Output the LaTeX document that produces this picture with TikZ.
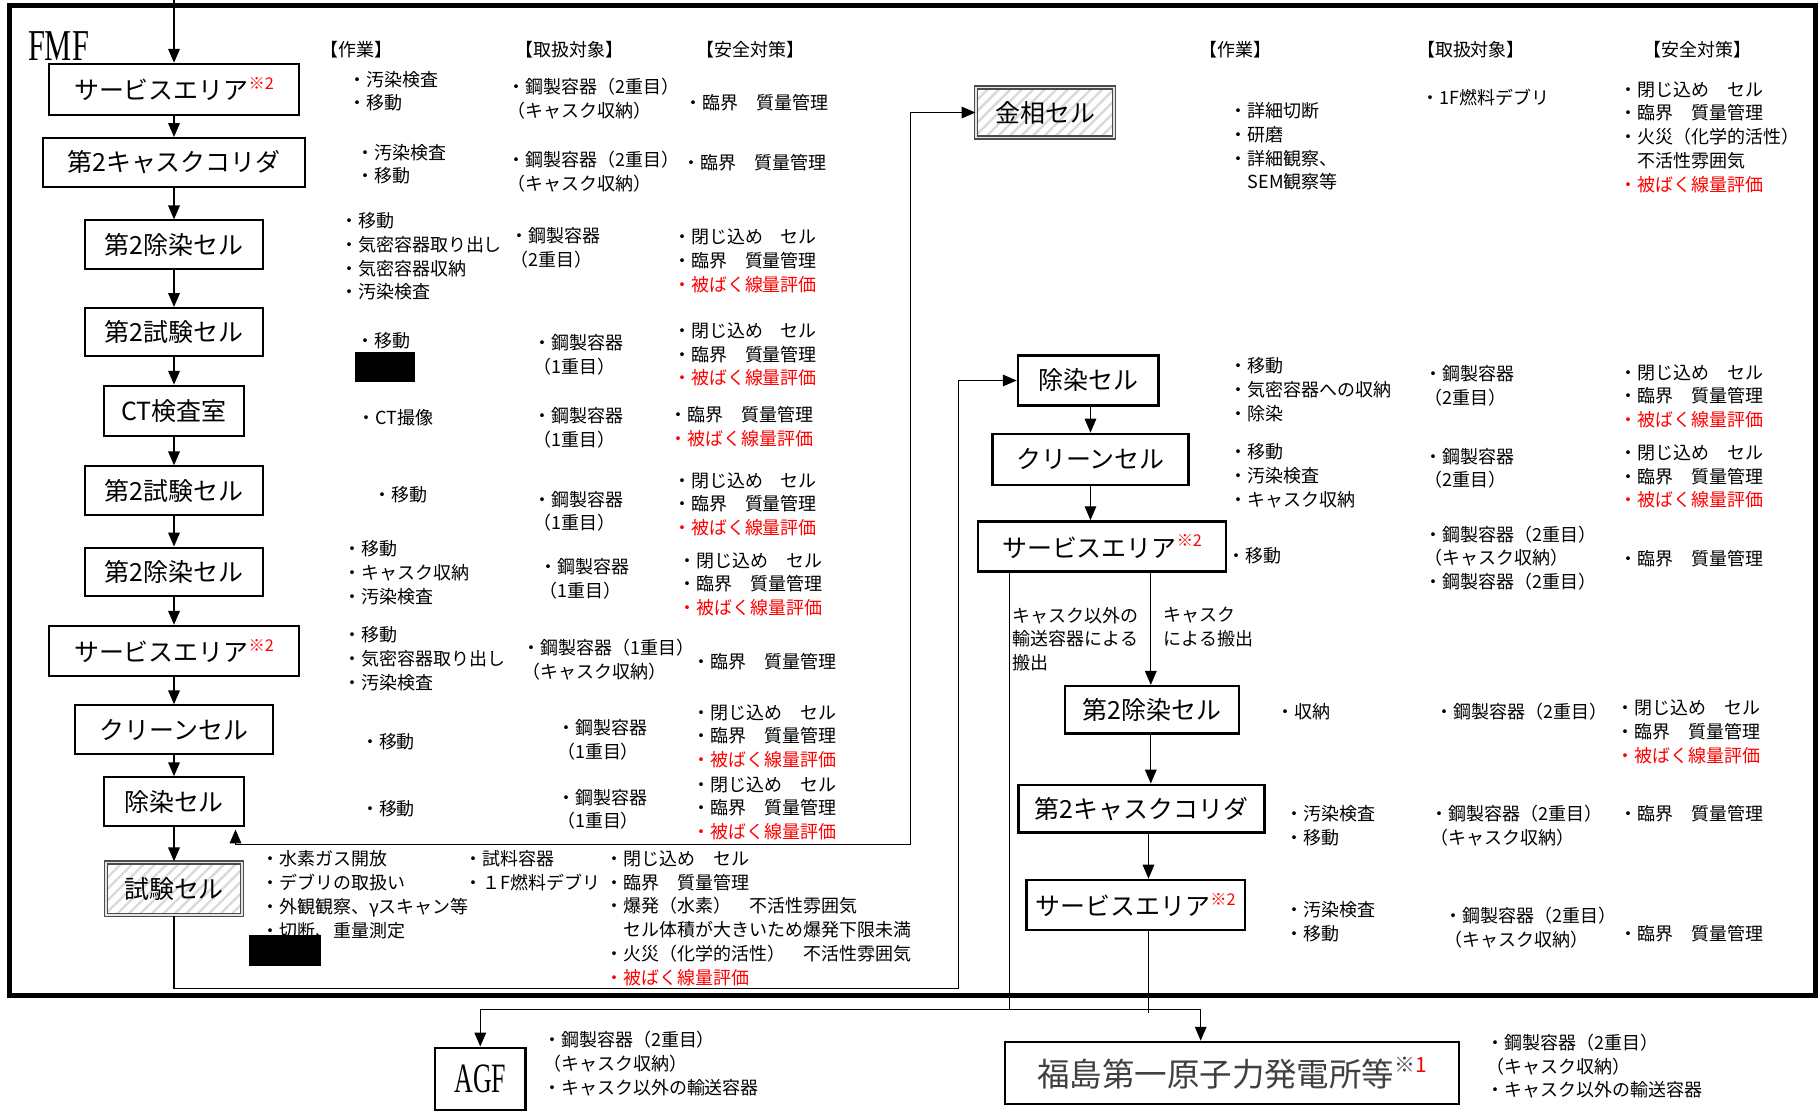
\documentclass[tikz,border=0pt]{standalone}
\usepackage{fontspec}
\usepackage{graphicx}
\setmainfont{Noto Sans CJK JP}
\newfontfamily\serifA{Liberation Serif}
\usetikzlibrary{arrows.meta,patterns.meta}
\newcommand\JT[4]{\node[tx] (#1) at ({#2},{#3-8}) {#4};}
\newcommand\RD[1]{\textcolor{red}{#1}}
\newcommand\kome[1]{\raisebox{0.42em}{\fontsize{14}{14}\selectfont\textcolor{red}{※#1}}}
\begin{document}
\begin{tikzpicture}[x=1pt,y=-1pt,
  tx/.style={anchor=north west,inner sep=0pt,align=left,font=\fontsize{15.5}{20.5}\selectfont},
  hd/.style={inner sep=0pt,font=\fontsize{15.5}{15.5}\selectfont},
  bx/.style={draw,line width=1.8pt,inner sep=0pt,font=\fontsize{21.5}{22}\selectfont},
  hbx/.style={draw=black!70,line width=1.2pt,double=gray!20,double distance=1.4pt,inner sep=0pt,
     pattern={Lines[angle=45,distance=7pt,line width=2pt]},pattern color=gray!30,
     font=\fontsize{21.5}{22}\selectfont},
  arr/.style={-{Triangle[length=12pt,width=10pt]},line width=1.3pt},
  arrboth/.style={{Triangle[length=12pt,width=10pt]}-{Triangle[length=12pt,width=10pt]},line width=1.1pt},
  ln/.style={line width=1.1pt}]
\useasboundingbox (0,0) rectangle (1568,958);
\fill[white] (0,0) rectangle (1568,958);
% outer frame
\draw[line width=4.5pt] (8,5) rectangle (1565,858);
\node[anchor=west,inner sep=0pt] (fmf) at (24,40) {\serifA\fontsize{38}{38}\selectfont\scalebox{0.69}[1]{FMF}};

% left column boxes
\node[bx,minimum width=216,minimum height=44] (L1) at (150,77) {サービスエリア\kome{2}};
\node[bx,minimum width=226,minimum height=42] (L2) at (150,140) {第2キャスクコリダ};
\node[bx,minimum width=153,minimum height=42] (L3) at (150,211) {第2除染セル};
\node[bx,minimum width=153,minimum height=41] (L4) at (150,286) {第2試験セル};
\node[bx,minimum width=120,minimum height=43] (L5) at (150,354) {CT検査室};
\node[bx,minimum width=153,minimum height=42] (L6) at (150,423) {第2試験セル};
\node[bx,minimum width=153,minimum height=42] (L7) at (150,493) {第2除染セル};
\node[bx,minimum width=216,minimum height=43] (L8) at (150,561) {サービスエリア\kome{2}};
\node[bx,minimum width=170,minimum height=42] (L9) at (150,629) {クリーンセル};
\node[bx,minimum width=120,minimum height=42] (L10) at (150,691) {除染セル};
\node[hbx,minimum width=117,minimum height=45] (L11) at (150,766) {試験セル};

% metallography cell
\node[hbx,minimum width=119,minimum height=43] (K) at (901,97) {金相セル};

% right column boxes
\node[bx,line width=2.2pt,minimum width=121,minimum height=43] (R1) at (938,328) {除染セル};
\node[bx,line width=2.2pt,minimum width=169,minimum height=44] (R2) at (940,396) {クリーンセル};
\node[bx,line width=2.2pt,minimum width=214,minimum height=43] (R3) at (950,471) {サービスエリア\kome{2}};
\node[bx,line width=2.2pt,minimum width=150,minimum height=41] (R4) at (993,612) {第2除染セル};
\node[bx,line width=2.2pt,minimum width=212,minimum height=41] (R5) at (984,697) {第2キャスクコリダ};
\node[bx,line width=2.2pt,minimum width=188,minimum height=43] (R6) at (979,780) {サービスエリア\kome{2}};

% outside boxes
\node[draw,line width=1.8pt,inner sep=0pt,minimum width=78,minimum height=54] (AGF) at (414,930) {\serifA\fontsize{36}{36}\selectfont\scalebox{0.62}[1]{AGF}};
\node[draw,line width=1.8pt,inner sep=0pt,minimum width=392,minimum height=54,text=black!75] (FUK) at (1062,925) {\fontsize{28}{28}\selectfont 福島第一原子力発電所等\raisebox{0.42em}{\fontsize{18}{18}\selectfont ※\textcolor{red}{1}}};

% coordinates
\coordinate (top) at (150,0);
\coordinate (c1) at (826,852);
\coordinate (c2) at (203,715);
\coordinate (c3) at (785,728);
\coordinate (cL) at (870,870);
\coordinate (cB) at (990,873);
\coordinate (hB) at (1035,870);
\coordinate (xp) at (940,0);
\coordinate (xq) at (992,0);

% left connectors
\draw[arr] (top) -- (L1.north);
\foreach \a/\b in {L1/L2,L2/L3,L3/L4,L4/L5,L5/L6,L6/L7,L7/L8,L8/L9,L9/L10,L10/L11}
  \draw[arr] (\a.south) -- (\b.north);
\draw[arr,line width=1.1pt] (L11.south) |- (c1) |- (R1.west);
\draw[arrboth] (c2) |- (c3) |- (K.west);

% right connectors
\draw[arr,line width=1.1pt] (R1.south -| xp) -- (R2.north -| xp);
\draw[arr,line width=1.1pt] (R2.south -| xp) -- (R3.north -| xp);
\draw[arr,line width=1.1pt] (R3.south -| xq) -- (R4.north -| xq);
\draw[arr,line width=1.1pt] (R4.south -| xq) -- (R5.north -| xq);
\draw[arr,line width=1.1pt] (R5.south -| cB) -- (R6.north -| cB);
\draw[ln] (R3.south -| cL) -- (cL);
\draw[ln] (R6.south -| cB) -- (cB);
\draw[arrboth] (AGF.north) |- (hB) -- (hB |- FUK.north);

% headers
\node[hd] (h1) at (307,43) {【作業】};
\node[hd] (h2) at (491,43) {【取扱対象】};
\node[hd] (h3) at (647,43) {【安全対策】};
\node[hd] (h4) at (1065,43) {【作業】};
\node[hd] (h5) at (1268,43) {【取扱対象】};
\node[hd] (h6) at (1463,43) {【安全対策】};

% left rows
\JT{a1}{300}{69}{・汚染検査\\・移動}
\JT{b1}{437}{75}{・鋼製容器（2重目）\\（キャスク収納）}
\JT{c1t}{590}{89}{・臨界　質量管理}

\JT{a2}{307}{132}{・汚染検査\\・移動}
\JT{b2}{437}{138}{・鋼製容器（2重目）\\（キャスク収納）}
\JT{c2t}{588}{141}{・臨界　質量管理}

\JT{a3}{293}{191}{・移動\\・気密容器取り出し\\・気密容器収納\\・汚染検査}
\JT{b3}{440}{204}{・鋼製容器\\（2重目）}
\JT{c3t}{580}{205}{・閉じ込め　セル\\・臨界　質量管理\\\RD{・被ばく線量評価}}

\JT{a4}{307}{294}{・移動}
\fill[black] (306,303) rectangle (358,329);
\JT{b4}{460}{296}{・鋼製容器\\（1重目）}
\JT{c4t}{580}{286}{・閉じ込め　セル\\・臨界　質量管理\\\RD{・被ばく線量評価}}

\JT{a5}{308}{361}{・CT撮像}
\JT{b5}{460}{359}{・鋼製容器\\（1重目）}
\JT{c5t}{577}{358}{・臨界　質量管理\\\RD{・被ばく線量評価}}

\JT{a6}{322}{427}{・移動}
\JT{b6}{460}{431}{・鋼製容器\\（1重目）}
\JT{c6t}{580}{415}{・閉じ込め　セル\\・臨界　質量管理\\\RD{・被ばく線量評価}}

\JT{a7}{296}{474}{・移動\\・キャスク収納\\・汚染検査}
\JT{b7}{465}{489}{・鋼製容器\\（1重目）}
\JT{c7t}{585}{484}{・閉じ込め　セル\\・臨界　質量管理\\\RD{・被ばく線量評価}}

\JT{a8}{296}{548}{・移動\\・気密容器取り出し\\・汚染検査}
\JT{b8}{450}{559}{・鋼製容器（1重目）\\（キャスク収納）}
\JT{c8t}{597}{571}{・臨界　質量管理}

\JT{a9}{311}{640}{・移動}
\JT{b9}{480}{628}{・鋼製容器\\（1重目）}
\JT{c9t}{597}{615}{・閉じ込め　セル\\・臨界　質量管理\\\RD{・被ばく線量評価}}

\JT{a10}{311}{698}{・移動}
\JT{b10}{480}{688}{・鋼製容器\\（1重目）}
\JT{c10t}{597}{677}{・閉じ込め　セル\\・臨界　質量管理\\\RD{・被ばく線量評価}}

\JT{a11}{225}{741}{・水素ガス開放\\・デブリの取扱い\\・外観観察、γスキャン等\\・切断、重量測定}
\fill[black] (215,806) rectangle (277,833);
\JT{b11}{400}{741}{・試料容器\\・１F燃料デブリ}
\JT{c11t}{522}{741}{・閉じ込め　セル\\・臨界　質量管理\\・爆発（水素）　不活性雰囲気\\　セル体積が大きいため爆発下限未満\\・火災（化学的活性）　不活性雰囲気\\\RD{・被ばく線量評価}}

% right rows
\JT{d1}{1060}{96}{・詳細切断\\・研磨\\・詳細観察、\\　SEM観察等}
\JT{e1}{1225}{85}{・1F燃料デブリ}
\JT{f1}{1396}{78}{・閉じ込め　セル\\・臨界　質量管理\\・火災（化学的活性）\\　不活性雰囲気\\\RD{・被ばく線量評価}}

\JT{d2}{1060}{316}{・移動\\・気密容器への収納\\・除染}
\JT{e2}{1228}{323}{・鋼製容器\\（2重目）}
\JT{f2}{1396}{322}{・閉じ込め　セル\\・臨界　質量管理\\\RD{・被ばく線量評価}}

\JT{d3}{1060}{390}{・移動\\・汚染検査\\・キャスク収納}
\JT{e3}{1228}{394}{・鋼製容器\\（2重目）}
\JT{f3}{1396}{391}{・閉じ込め　セル\\・臨界　質量管理\\\RD{・被ばく線量評価}}

\JT{d4}{1058}{480}{・移動}
\JT{e4}{1228}{461}{・鋼製容器（2重目）\\（キャスク収納）\\・鋼製容器（2重目）}
\JT{f4}{1396}{482}{・臨界　質量管理}

\JT{l1}{873}{531}{キャスク以外の\\輸送容器による\\搬出}
\JT{l2}{1003}{531}{キャスク\\による搬出}

\JT{d5}{1100}{614}{・収納}
\JT{e5}{1237}{614}{・鋼製容器（2重目）}
\JT{f5}{1393}{611}{・閉じ込め　セル\\・臨界　質量管理\\\RD{・被ばく線量評価}}

\JT{d6}{1108}{702}{・汚染検査\\・移動}
\JT{e6}{1233}{702}{・鋼製容器（2重目）\\（キャスク収納）}
\JT{f6}{1396}{702}{・臨界　質量管理}

\JT{d7}{1108}{785}{・汚染検査\\・移動}
\JT{e7}{1245}{790}{・鋼製容器（2重目）\\（キャスク収納）}
\JT{f7}{1396}{805}{・臨界　質量管理}

% outside texts
\JT{g1}{468}{897}{・鋼製容器（2重目）\\（キャスク収納）\\・キャスク以外の輸送容器}
\JT{g2}{1281}{899}{・鋼製容器（2重目）\\（キャスク収納）\\・キャスク以外の輸送容器}
\end{tikzpicture}
\end{document}
